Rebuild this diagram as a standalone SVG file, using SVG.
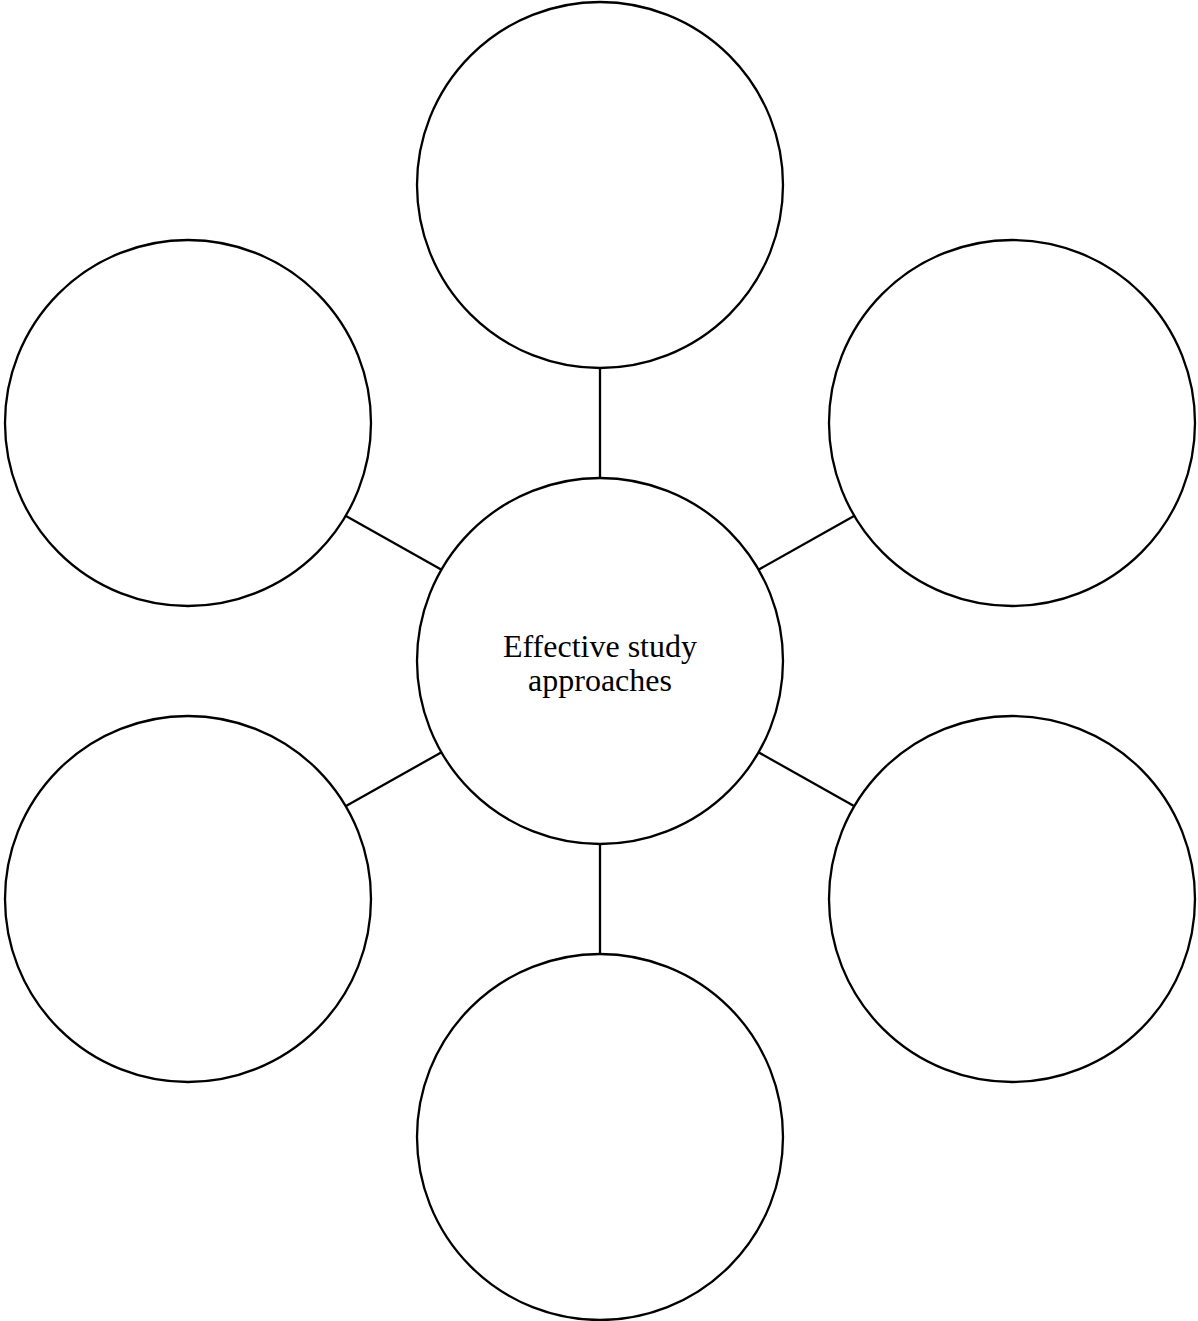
<svg xmlns="http://www.w3.org/2000/svg" width="1198" height="1321" viewBox="0 0 1198 1321">
<style>
.n{fill:#fff;stroke:#000;stroke-width:2.3}
.c{stroke:#000;stroke-width:2.3;fill:none}
.t{font-family:"Liberation Serif","Times New Roman",serif;font-size:32px;fill:#000;text-anchor:middle}
</style>
<rect width="1198" height="1321" fill="#fff"/>
<g id="connectors">
<line class="c" x1="600" y1="368" x2="600" y2="478"/>
<line class="c" x1="600" y1="844" x2="600" y2="954"/>
<line class="c" x1="346" y1="516" x2="442" y2="570"/>
<line class="c" x1="854" y1="516" x2="758" y2="570"/>
<line class="c" x1="346" y1="806" x2="442" y2="752"/>
<line class="c" x1="854" y1="806" x2="758" y2="752"/>
</g>
<g id="center"><circle class="n" cx="600" cy="661" r="183"/>
<text class="t" x="600" y="657">Effective study</text>
<text class="t" x="600" y="691">approaches</text></g>
<g id="top"><circle class="n" cx="600" cy="185" r="183"/></g>
<g id="topleft"><circle class="n" cx="188" cy="423" r="183"/></g>
<g id="topright"><circle class="n" cx="1012" cy="423" r="183"/></g>
<g id="bottomleft"><circle class="n" cx="188" cy="899" r="183"/></g>
<g id="bottomright"><circle class="n" cx="1012" cy="899" r="183"/></g>
<g id="bottom"><circle class="n" cx="600" cy="1137" r="183"/></g>
</svg>
